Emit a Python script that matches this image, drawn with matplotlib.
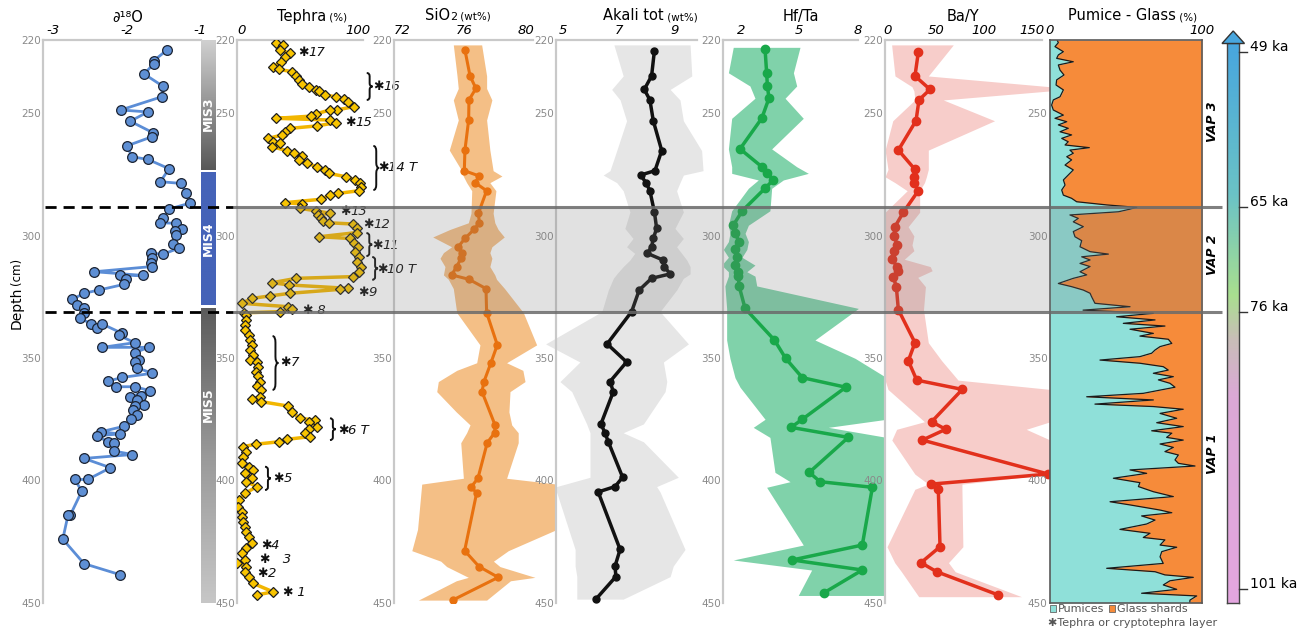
import numpy as np
import matplotlib
matplotlib.use("Agg")
import matplotlib.pyplot as plt
from matplotlib import font_manager
from matplotlib.colors import LinearSegmentedColormap
from matplotlib.patches import PathPatch, Polygon, Rectangle
from matplotlib.path import Path

# ---------------- data (depth in cm) ----------------
d18o_depth = [224.1, 228.5, 229.7, 233.9, 238.8, 243.2, 248.6, 249.4, 253.2, 257.9,
              259.5, 263.2, 267.7, 268.8, 272.6, 277.9, 278.6, 282.4, 286.7, 289.1,
              292.9, 294.7, 294.9, 297.4, 298.1, 299.8, 303.5, 305.1, 307.5, 307.2,
              309.0, 311.3, 312.6, 314.7, 316.2, 316.2, 317.8, 319.9, 322.2, 323.5,
              326.0, 328.3, 329.7, 331.7, 333.5, 336.1, 337.6, 336.1, 339.9, 340.6,
              343.7, 345.6, 345.6, 347.8, 350.8, 351.5, 353.9, 356.2, 357.9, 359.4,
              361.7, 361.7, 363.3, 365.8, 365.5, 367.1, 369.3, 369.6, 371.2, 373.4,
              374.9, 377.9, 380.1, 381.0, 381.7, 384.2, 384.8, 388.0, 389.4, 391.0,
              394.8, 399.6, 399.6, 404.3, 414.3, 414.3, 424.0, 434.0, 438.5]
d18o_val = [-1.45, -1.63, -1.63, -1.76, -1.51, -1.52, -2.08, -1.71, -1.95, -1.64,
            -1.65, -1.99, -1.93, -1.71, -1.42, -1.54, -1.26, -1.19, -1.14, -1.42,
            -1.50, -1.54, -1.32, -1.25, -1.34, -1.32, -1.37, -1.29, -1.50, -1.67,
            -1.66, -1.67, -1.66, -2.44, -1.78, -2.09, -2.01, -2.04, -2.38, -2.58,
            -2.74, -2.67, -2.58, -2.58, -2.64, -2.48, -2.40, -2.33, -2.06, -2.11,
            -1.89, -2.33, -1.70, -1.89, -1.83, -1.89, -1.86, -1.65, -2.06, -2.25,
            -2.14, -1.89, -1.68, -1.96, -1.81, -1.86, -1.76, -1.89, -1.91, -1.86,
            -1.94, -2.04, -2.35, -2.09, -2.40, -2.26, -2.17, -2.17, -1.92, -2.58,
            -2.22, -2.53, -2.71, -2.61, -2.77, -2.80, -2.87, -2.58, -2.09]

mis_names = ["MIS3", "MIS4", "MIS5"]
mis_top = [220.0, 274.2, 329.5]
mis_bot = [273.1, 328.3, 452.0]
mis_label_depth = [250, 301, 369]

tephra_depth = [221.1, 222.0, 224.1, 225.4, 227.1, 228.9, 230.9, 232.0, 232.9, 234.7,
                236.3, 238.0, 239.3, 240.4, 240.7, 242.5, 243.2, 244.3, 245.2, 247.2,
                248.6, 248.6, 250.2, 251.1, 252.0, 252.7, 253.8, 255.1, 256.1, 257.5,
                258.8, 260.2, 261.6, 262.2, 263.6, 265.2, 266.0, 267.4, 269.0, 270.4,
                271.8, 273.1, 274.5, 275.9, 277.2, 278.6, 279.9, 281.6, 282.7, 283.4,
                285.1, 286.5, 287.0, 288.8, 289.8, 290.8, 291.5, 292.9, 293.8, 294.7,
                295.2, 297.0, 298.7, 300.4, 301.1, 302.8, 304.7, 306.5, 308.6, 310.6,
                312.6, 314.7, 316.7, 317.4, 319.2, 320.1, 321.5, 321.9, 323.5, 324.6,
                325.6, 327.6, 329.0, 330.1, 331.0, 331.5, 332.4, 334.4, 336.5, 338.5,
                340.6, 342.6, 344.6, 346.7, 348.7, 350.8, 351.5, 353.5, 355.5, 357.3,
                359.6, 361.4, 363.0, 365.8, 366.7, 367.8, 369.6, 371.9, 374.6, 375.3,
                376.0, 378.0, 379.1, 380.7, 382.1, 383.2, 384.2, 385.2, 386.2, 388.2,
                390.3, 393.0, 394.4, 395.7, 397.1, 399.1, 400.5, 402.5, 405.3, 408.0,
                410.7, 412.8, 414.8, 416.8, 418.9, 420.9, 423.0, 425.7, 427.8, 429.8,
                432.5, 433.9, 435.2, 437.3, 439.3, 442.1, 445.5, 446.8]
tephra_pct = [30, 36, 33, 42, 37, 34, 27, 32, 43, 47,
              49, 52, 58, 64, 67, 72, 81, 88, 92, 97,
              82, 76, 64, 60, 30, 76, 81, 65, 42, 37,
              35, 23, 27, 33, 26, 39, 45, 52, 49, 56,
              65, 72, 75, 90, 98, 102, 103, 101, 83, 76,
              68, 37, 52, 50, 64, 76, 66, 68, 70, 75,
              96, 99, 99, 67, 93, 97, 100, 98, 101, 99,
              103, 101, 96, 47, 26, 41, 92, 85, 42, 24,
              9, 0, 40, 43, 33, 2, 4, 4, 3, 3,
              6, 7, 9, 7, 10, 7, 13, 14, 12, 14,
              16, 13, 17, 16, 9, 17, 40, 43, 50, 63,
              58, 65, 58, 55, 59, 39, 32, 12, 1, 4,
              1, 0, 6, 10, 3, 9, 4, 13, 3, -2,
              -3, 0, 0, 1, 3, 4, 6, 9, 4, 0,
              3, -4, 4, 3, 6, 10, 27, 13]

# tephra layer labels (asterisk position in tephra % / depth)
layer_label = ["17", "16", "15", "14 T", "13", "12", "11", "10 T", "9", " 8",
               "7", "6 T", "5", "4", "   3", "2", " 1"]
layer_x = [48.5, 113.2, 89.0, 117.5, 84.7, 104.6, 112.3, 116.6, 100.3, 52.0,
           33.0, 83.0, 27.0, 16.4, 15.2, 13.4, 35.3]
layer_depth = [225.3, 239.2, 253.8, 272.3, 289.9, 295.2, 304.0, 313.6, 323.0, 330.7,
               352.0, 379.4, 399.4, 426.4, 432.5, 437.9, 445.9]
brace_x = [107.8, 113.5, 107.5, 112.5, 26.6, 76.1, 20.1]
brace_top = [233.5, 263.3, 298.9, 308.7, 341.0, 374.6, 394.4]
brace_bot = [244.5, 281.3, 308.3, 318.0, 363.0, 383.5, 403.9]

sio2_depth = [224.1, 234.7, 239.8, 244.5, 252.7, 265.0, 273.4, 275.6, 278.3, 281.6,
              290.8, 294.7, 297.4, 301.1, 304.5, 306.9, 309.2, 312.6, 316.0, 317.8,
              321.6, 331.4, 344.6, 351.9, 359.6, 363.7, 377.3, 380.5, 384.6, 399.1,
              402.8, 405.0, 428.7, 435.2, 439.6, 448.9]
sio2_val = [76.06, 76.39, 76.77, 76.32, 76.30, 76.06, 76.02, 76.99, 76.71, 77.46,
            76.93, 76.99, 76.65, 76.06, 75.63, 75.85, 75.81, 75.53, 75.20, 76.32,
            77.42, 77.46, 78.15, 77.74, 77.29, 77.16, 78.00, 77.98, 77.50, 76.90,
            76.45, 76.82, 76.04, 76.97, 78.21, 75.27]
sio2_band_depth = [222.0, 234.7, 239.8, 244.5, 252.7, 265.0, 273.4, 275.6, 278.3, 281.6,
                   290.8, 294.7, 297.4, 300.5, 304.5, 306.9, 309.2, 312.6, 316.0, 317.8,
                   321.6, 331.4, 344.6, 351.9, 355.0, 359.6, 363.7, 372.0, 377.3, 380.5,
                   384.6, 399.1, 401.5, 420.0, 428.7, 433.0, 435.2, 439.6, 441.0, 448.9]
sio2_lo = [75.31, 75.55, 75.63, 75.31, 75.63, 75.05, 75.85, 75.95, 76.17, 76.50,
           76.45, 76.28, 75.10, 73.98, 75.20, 74.67, 74.45, 74.77, 74.67, 74.99,
           75.31, 75.53, 77.03, 76.82, 75.53, 74.34, 74.24, 75.50, 76.39, 76.17,
           75.79, 75.96, 73.27, 73.00, 72.63, 74.50, 74.88, 76.28, 75.50, 73.05]
sio2_hi = [77.14, 77.46, 77.46, 77.80, 77.46, 77.67, 77.88, 78.45, 77.67, 78.06,
           77.88, 77.99, 78.20, 78.60, 77.80, 77.67, 77.80, 77.67, 77.99, 78.10,
           78.62, 79.83, 80.69, 78.75, 79.80, 79.94, 78.97, 78.90, 79.08, 79.50,
           79.50, 78.75, 82.00, 82.00, 78.86, 77.90, 78.32, 80.58, 79.00, 77.46]

alk_depth = [224.4, 234.7, 240.2, 244.5, 253.0, 265.2, 273.4, 275.2, 278.3, 281.6,
             290.3, 297.0, 301.1, 304.5, 307.2, 309.9, 312.6, 315.6, 317.4, 322.2,
             331.0, 344.2, 351.6, 359.6, 363.7, 376.9, 380.5, 384.2, 398.7, 402.5,
             404.7, 428.2, 435.0, 439.3, 448.5]
alk_val = [8.27, 8.17, 7.91, 8.11, 8.23, 8.53, 8.29, 7.78, 7.97, 8.11,
           8.27, 8.35, 8.23, 8.17, 8.02, 8.57, 8.62, 8.83, 8.17, 7.73,
           7.46, 6.59, 7.28, 6.69, 6.81, 6.37, 6.51, 6.63, 7.14, 6.87,
           6.27, 7.05, 6.87, 6.90, 6.19]
alk_band_depth = [222.0, 234.7, 240.2, 244.5, 253.0, 265.2, 273.4, 275.2, 278.3, 281.6,
                  290.3, 297.0, 301.1, 304.5, 307.2, 309.9, 312.6, 315.6, 317.4, 322.2,
                  331.0, 344.2, 351.6, 359.6, 363.7, 376.9, 380.5, 384.2, 398.7, 402.5,
                  404.7, 428.2, 435.0, 439.3, 448.5]
alk_lo = [6.83, 7.16, 6.75, 7.05, 7.28, 6.93, 6.69, 6.45, 6.93, 7.16,
          7.40, 7.22, 7.51, 7.28, 7.57, 7.40, 7.16, 6.93, 6.81, 6.63,
          6.40, 4.40, 5.62, 4.91, 5.33, 5.86, 5.98, 5.98, 5.98, 4.79,
          4.79, 5.45, 5.45, 5.51, 5.51]
alk_hi = [9.54, 9.60, 8.83, 9.18, 9.30, 9.95, 10.00, 9.30, 9.18, 9.06,
          9.30, 9.00, 9.30, 9.06, 9.24, 9.42, 9.54, 9.54, 9.30, 9.06,
          8.47, 9.48, 8.59, 8.71, 8.65, 7.88, 7.16, 7.88, 9.12, 8.35,
          8.47, 9.36, 8.94, 8.83, 7.16]

hfta_depth = [223.8, 233.4, 238.8, 243.8, 252.0, 264.5, 271.8, 274.5, 277.2, 280.6,
              289.8, 295.7, 299.0, 302.4, 305.6, 308.8, 312.0, 314.7, 316.5, 320.5,
              329.7, 342.6, 350.1, 358.0, 361.9, 375.0, 378.3, 382.4, 396.7, 400.5,
              402.8, 426.4, 432.5, 436.6, 445.9]
hfta_val = [3.24, 3.32, 3.36, 3.44, 3.07, 1.95, 3.07, 3.36, 3.66, 3.24,
            2.07, 1.60, 1.69, 1.90, 1.69, 1.78, 1.69, 1.83, 1.86, 1.90,
            2.21, 3.72, 4.30, 5.16, 7.40, 5.16, 4.58, 7.53, 5.52, 6.07,
            8.77, 8.25, 4.64, 8.25, 6.28]
hfta_band_depth = [223.0, 233.4, 238.8, 243.8, 252.0, 264.5, 271.8, 274.5, 277.2, 280.6,
                   289.8, 295.7, 299.0, 302.4, 305.6, 308.8, 312.0, 314.7, 316.5, 320.5,
                   329.7, 342.6, 350.1, 358.0, 361.9, 375.0, 378.3, 382.4, 396.7, 400.5,
                   402.8, 426.4, 432.5, 436.6, 447.0]
hfta_lo = [1.60, 1.35, 2.46, 2.72, 1.52, 1.35, 1.52, 1.52, 2.89, 2.38,
           1.52, 1.35, 1.43, 1.35, 1.09, 1.35, 1.00, 1.35, 1.35, 1.17,
           1.26, 1.26, 1.43, 1.69, 1.95, 3.24, 2.63, 3.49, 3.75, 4.53,
           3.32, 5.21, 1.60, 5.64, 4.95]
hfta_hi = [5.04, 4.70, 4.87, 4.27, 5.21, 3.58, 4.87, 5.47, 4.18, 3.58,
           3.49, 2.38, 2.21, 2.38, 2.30, 2.05, 2.72, 2.30, 2.72, 2.81,
           8.05, 5.81, 7.88, 9.50, 9.50, 9.50, 6.50, 9.50, 9.50, 9.50,
           9.50, 9.50, 9.50, 9.50, 9.50]

bay_depth = [225.0, 234.7, 240.2, 244.5, 253.0, 265.0, 272.9, 275.9, 278.3, 281.6,
             290.4, 296.3, 300.1, 303.8, 306.1, 309.6, 312.6, 314.3, 317.0, 320.8,
             330.2, 343.7, 351.1, 359.0, 362.8, 376.0, 379.1, 383.5, 397.4, 401.5,
             403.6, 427.1, 433.6, 437.3, 446.7]
bay_val = [31.6, 28.1, 43.8, 32.3, 29.2, 10.8, 28.1, 27.4, 27.4, 31.6,
           16.0, 7.3, 6.3, 9.7, 6.6, 3.8, 9.7, 10.8, 5.6, 8.7,
           10.8, 28.1, 21.2, 29.9, 77.4, 45.5, 60.1, 35.8, 167.0, 44.8,
           52.4, 54.2, 34.4, 50.7, 114.2]
bay_band_depth = [222.0, 234.7, 239.1, 240.8, 244.5, 253.0, 265.0, 272.9, 275.9, 278.3,
                  281.6, 290.4, 296.3, 300.1, 303.8, 306.1, 309.6, 312.6, 314.3, 317.0,
                  320.8, 330.2, 343.7, 351.1, 359.0, 362.8, 376.0, 379.1, 383.5, 397.4,
                  401.5, 403.6, 427.1, 433.6, 437.3, 447.5]
bay_lo = [3.8, 7.3, 25.0, 27.0, 28.0, 5.0, -3.0, 0.0, -3.0, 7.3,
          20.0, -3.0, -3.0, -3.0, -3.0, -3.0, -3.0, -3.0, -3.0, -3.0,
          -3.0, -3.0, -3.0, -3.0, -3.0, 0.0, 38.0, 9.0, 4.0, 28.0,
          42.0, 28.0, -1.0, 7.0, 14.0, 32.0]
bay_hi = [68.0, 42.0, 169.0, 169.0, 57.6, 111.0, 42.0, 42.0, 40.0, 38.0,
          33.0, 33.0, 21.0, 27.0, 25.0, 27.0, 17.0, 44.0, 46.0, 31.0,
          39.0, 37.0, 42.0, 56.0, 73.0, 169.0, 169.0, 144.0, 169.0, 169.0,
          77.0, 77.0, 78.0, 63.0, 70.0, 139.0]

pumice_depth = [220.0, 221.1, 222.7, 224.8, 226.1, 227.5, 228.9, 230.2, 232.3, 234.3,
                236.3, 238.4, 240.4, 243.2, 244.5, 246.6, 248.6, 250.7, 252.0, 253.4,
                254.7, 256.1, 257.5, 258.8, 260.2, 261.6, 262.9, 264.0, 265.0, 266.3,
                267.7, 269.0, 271.1, 273.1, 275.2, 277.2, 279.3, 281.3, 283.4, 284.7,
                286.1, 287.4, 288.4, 289.2, 290.2, 291.5, 292.9, 294.3, 296.3, 298.3,
                300.4, 302.0, 304.5, 306.5, 307.5, 308.6, 309.9, 311.3, 312.6, 314.7,
                316.0, 317.4, 319.5, 320.8, 322.2, 323.5, 324.9, 326.3, 327.6, 329.0,
                330.4, 331.7, 333.1, 334.4, 335.8, 336.9, 338.2, 339.9, 341.0, 342.3,
                344.0, 345.3, 346.7, 348.0, 349.4, 350.8, 352.1, 353.5, 354.9, 356.2,
                357.6, 358.9, 360.3, 361.9, 364.4, 365.8, 367.1, 368.8, 369.8, 370.9,
                372.6, 374.6, 376.4, 378.0, 379.7, 380.7, 382.4, 383.5, 385.1, 386.5,
                388.2, 389.6, 391.6, 393.0, 394.1, 395.7, 397.1, 399.1, 400.9, 402.5,
                404.6, 406.6, 408.7, 410.0, 412.1, 413.2, 414.5, 416.2, 417.8, 420.0,
                421.6, 423.3, 424.3, 426.4, 427.3, 429.1, 431.2, 433.9, 435.9, 437.3,
                438.6, 439.6, 441.0, 442.7, 444.5, 446.1, 447.2, 448.9, 450.0]
pumice_pct = [5.0, 5.8, 3.6, 9.1, 5.8, 4.7, 15.6, 5.8, 6.9, 9.5,
              4.7, 4.3, 9.1, 6.9, 2.5, 1.4, 2.5, 9.1, 3.6, 11.3,
              5.8, 12.3, 6.9, 14.5, 8.0, 12.3, 10.2, 26.1, 13.4, 15.6,
              11.3, 14.5, 10.2, 15.6, 12.3, 9.1, 10.2, 8.0, 9.1, 14.5,
              17.8, 37.5, 57.2, 52.3, 45.2, 13.4, 18.9, 15.6, 22.2, 15.6,
              16.7, 21.1, 20.0, 26.6, 38.6, 21.1, 26.6, 20.0, 26.6, 20.0,
              24.4, 15.6, 5.8, 14.5, 22.2, 26.6, 27.6, 28.7, 29.8, 52.8,
              22.0, 68.1, 44.0, 69.2, 48.4, 75.7, 52.8, 68.1, 59.3, 77.9,
              80.2, 72.5, 69.2, 67.0, 59.3, 33.1, 59.3, 74.6, 77.9, 68.1,
              81.2, 71.4, 79.0, 82.3, 61.5, 24.4, 68.1, 29.8, 68.1, 87.7,
              72.5, 83.4, 70.3, 87.7, 67.0, 80.2, 76.8, 87.7, 72.5, 81.2,
              75.7, 84.5, 82.3, 84.5, 95.4, 52.8, 63.7, 41.9, 59.3, 58.3,
              68.1, 81.2, 39.7, 52.8, 72.5, 80.2, 60.4, 69.2, 63.7, 46.2,
              65.9, 61.5, 75.7, 72.5, 83.4, 73.6, 72.5, 74.6, 37.5, 69.2,
              75.7, 94.3, 79.0, 74.6, 83.4, 60.4, 96.5, 92.1, 92.0]

vap_label = ["VAP 3", "VAP 2", "VAP 1"]
vap_depth = [253.5, 307.9, 389.2]
age_label = ["49 ka", "65 ka", "76 ka", "101 ka"]
age_depth = [224.8, 288.1, 331.0, 444.5]
band_top, band_bot = 288.1, 331.0   # MIS4 / VAP 2 interval

# ---------------- layout helpers ----------------
W, H = 1309, 633
TOP, BOT = 40.0, 602.8          # pixel rows of depth 220 and 450
DMIN, DMAX = 220, 450
DEPTH_TICKS = [220, 250, 300, 350, 400, 450]


def dpx(d):
    return TOP + (d - DMIN) * (BOT - TOP) / (DMAX - DMIN)


installed = {f.name for f in font_manager.fontManager.ttflist}
NARROW = "Liberation Sans Narrow" if "Liberation Sans Narrow" in installed else "DejaVu Sans"
YT_SIZE = 9 if NARROW != "DejaVu Sans" else 7.5

plt.rcParams["font.family"] = ["DejaVu Sans"]
plt.rcParams["axes.unicode_minus"] = False

fig = plt.figure(figsize=(W / 100, H / 100), dpi=100)


def panel(x0, x1, xlim, xticks, top_end, yticks=DEPTH_TICKS):
    ax = fig.add_axes([x0 / W, 1 - BOT / H, (x1 - x0) / W, (BOT - TOP) / H])
    ax.set_xlim(xlim)
    ax.set_ylim(DMAX, DMIN)
    ax.patch.set_visible(False)
    ax.spines["right"].set_visible(False)
    ax.spines["bottom"].set_visible(False)
    for s in ("left", "top"):
        ax.spines[s].set_color("#c9c9c9")
        ax.spines[s].set_linewidth(1.6)
    ax.spines["top"].set_bounds(xlim[0], top_end)
    ax.xaxis.tick_top()
    ax.set_xticks(xticks, [str(t) for t in xticks], fontstyle="italic", fontsize=9.5)
    ax.set_yticks(yticks, [str(t) for t in yticks], fontfamily=NARROW,
                  fontsize=YT_SIZE, color="#8a8a8a")
    ax.tick_params(axis="both", length=0)
    ax.tick_params(axis="x", pad=2)
    ax.tick_params(axis="y", pad=1.5)
    return ax


def brace(ax, x, d0, d1, w=5.0):
    h = d1 - d0
    m = (d0 + d1) / 2
    xm = x + w / 2
    verts = [(x, d0), (xm, d0), (xm, d0 + h * 0.12), (xm, m - h * 0.12),
             (xm, m), (x + w, m), (xm, m), (xm, m + h * 0.12),
             (xm, d1 - h * 0.12), (xm, d1), (x, d1)]
    codes = [Path.MOVETO, Path.CURVE3, Path.CURVE3, Path.LINETO,
             Path.CURVE3, Path.CURVE3, Path.CURVE3, Path.CURVE3,
             Path.LINETO, Path.CURVE3, Path.CURVE3]
    ax.add_patch(PathPatch(Path(verts, codes), fill=False, lw=1.4,
                           color="#111111", clip_on=False))


# ---------------- d18O ----------------
ax_o = panel(43, 201, (-3.14, -0.985), [-3, -2, -1], -0.985)
ax_o.plot(d18o_val, d18o_depth, "-o", color="#5b8dd6", lw=2, ms=7,
          mfc="#5e8fd4", mec="#1c2433", mew=0.9)

# ---------------- MIS bar ----------------
ax_m = fig.add_axes([201 / W, 1 - BOT / H, 15 / W, (BOT - TOP) / H])
ax_m.axis("off")
mis_cmaps = [LinearSegmentedColormap.from_list("m3", ["#d0d0d0", "#585858"]),
             LinearSegmentedColormap.from_list("m4", ["#4563b8", "#4563b8"]),
             LinearSegmentedColormap.from_list("m5", ["#5c5c5c", "#9a9a9a", "#c8c8c8"])]
grad = np.linspace(0, 1, 200)[:, None]
for name, d0, d1, cm, dl in zip(mis_names, mis_top, mis_bot, mis_cmaps, mis_label_depth):
    ax_m.imshow(grad, extent=(0, 1, d1, d0), aspect="auto", cmap=cm)
    ax_m.text(0.5, dl, name, rotation=90, ha="center", va="center",
              color="white", fontsize=9, fontweight="bold")
ax_m.set_xlim(0, 1)
ax_m.set_ylim(DMAX, DMIN)

# ---------------- Tephra ----------------
ax_t = panel(237, 394, (-4.05, 131.3), [0, 100], 104.6)
ax_t.plot(tephra_pct, tephra_depth, color="#f2b600", lw=2.5, zorder=2)
ax_t.plot(tephra_pct, tephra_depth, "D", ms=5.5, mfc="#f8c400", mec="#1e1e1e",
          mew=0.9, zorder=3)
for lab, x, d in zip(layer_label, layer_x, layer_depth):
    ast = ax_t.text(x, d, "\u2731", fontsize=9, ha="left", va="center",
                    color="#111111", clip_on=False)
    ax_t.annotate(lab, xy=(1, 0.5), xycoords=ast, ha="left", va="center",
                  fontsize=9.5, style="italic", color="#111111")
for x, d0, d1 in zip(brace_x, brace_top, brace_bot):
    brace(ax_t, x, d0, d1)

# ---------------- SiO2 (its 300 label sits under the layer labels) ----------------
ax_s = panel(394, 556, (71.48, 81.94), [72, 76, 80], 80.47,
             yticks=[220, 250, 350, 400, 450])
ax_s.fill_betweenx(sio2_band_depth, sio2_lo, sio2_hi, color="#f4bf86", lw=0)
ax_s.plot(sio2_val, sio2_depth, "-o", color="#e8710f", lw=2.2, ms=5)

# ---------------- Alkali ----------------
ax_a = panel(556, 723, (4.77, 10.71), [5, 7, 9], 9.78)
ax_a.fill_betweenx(alk_band_depth, alk_lo, alk_hi, color="#e6e6e6", lw=0, clip_on=False)
ax_a.plot(alk_val, alk_depth, "-o", color="#111111", lw=2.5, ms=5)

# ---------------- Hf/Ta ----------------
ax_h = panel(723, 885, (1.072, 9.42), [2, 5, 8], 8.05)
ax_h.fill_betweenx(hfta_band_depth, hfta_lo, hfta_hi, color="#80d2aa", lw=0)
ax_h.plot(hfta_val, hfta_depth, "-o", color="#19a84a", lw=2.5, ms=6)

# ---------------- Ba/Y ----------------
ax_b = panel(885, 1049.5, (-3.1, 168.2), [0, 50, 100, 150], 160)
ax_b.fill_betweenx(bay_band_depth, bay_lo, bay_hi, color="#f7cdca", lw=0)
ax_b.plot(bay_val, bay_depth, "-o", color="#e2301c", lw=2.5, ms=6)

# ---------------- Pumice - Glass ----------------
ax_p = panel(1049.5, 1202, (0, 100), [0, 100], 100, yticks=[250, 300, 350, 400, 450])
ax_p.fill_betweenx(pumice_depth, 0, pumice_pct, color="#8fe0d9", lw=0)
ax_p.fill_betweenx(pumice_depth, pumice_pct, 100, color="#f68b3a", lw=0)
ax_p.plot(pumice_pct, pumice_depth, color="#1a1a1a", lw=0.9)
for s in ax_p.spines.values():
    s.set_visible(True)
    s.set_color("#5a5a5a")
    s.set_linewidth(1.2)
ax_p.spines["top"].set_bounds(0, 100)

# ---------------- age colour bar ----------------
age_cmap = LinearSegmentedColormap.from_list(
    "age", [(0.0, "#48a6de"), (0.27, "#6bc3c6"), (0.45, "#a9df8f"),
            (0.53, "#c9bdb8"), (0.63, "#dba9d6"), (1.0, "#e4a6e0")])
ax_c = fig.add_axes([1227 / W, 1 - 603 / H, 12 / W, (603 - 43) / H])
ax_c.imshow(np.linspace(0, 1, 300)[:, None], aspect="auto", cmap=age_cmap)
ax_c.set_xticks([])
ax_c.set_yticks([])
for s in ax_c.spines.values():
    s.set_color("#444444")
    s.set_linewidth(1)

# ---------------- overlay (pixel coordinates) ----------------
ov = fig.add_axes([0, 0, 1, 1])
ov.set_xlim(0, W)
ov.set_ylim(H, 0)
ov.axis("off")
ov.set_zorder(10)

yb0, yb1 = dpx(band_top), dpx(band_bot)
ov.add_patch(Rectangle((237, yb0), 1202 - 237, yb1 - yb0, facecolor="#7a7a7a",
                       alpha=0.22, lw=0))
for y in (yb0, yb1):
    ov.plot([233, 1222], [y, y], color="#6a6a6a", lw=2.2, alpha=0.85,
            solid_capstyle="butt")
    ov.plot([45, 233], [y, y], color="black", lw=2, dashes=(4, 2.5))

# titles
ov.text(128, 17, "\u2202\u00b9\u2078O", fontsize=10.5, ha="center", va="center")


def title(x, y, big, small, sub=None):
    t = ov.text(x, y, big, fontsize=10.5, ha="left", va="center")
    if sub is not None:
        t = ov.annotate(sub, xy=(1, 0.08), xycoords=t, fontsize=8, va="bottom")
    ov.annotate(small, xy=(1, 0.08), xycoords=t, fontsize=7.5, va="bottom")


title(277, 16, "Tephra", " (%)")
title(425, 16, "SiO", " (wt%)", sub="2")
title(603, 16, "Akali tot", " (wt%)")
ov.text(783, 16, "Hf/Ta", fontsize=10.5, ha="left", va="center")
ov.text(947, 16, "Ba/Y", fontsize=10.5, ha="left", va="center")
title(1068, 16, "Pumice - Glass", " (%)")

# depth label
ov.text(17, 308, "Depth", rotation=90, fontsize=10, ha="center", va="center")
ov.text(17, 271, "(cm)", rotation=90, fontsize=8.5, ha="center", va="center")

# VAP labels
for lab, d in zip(vap_label, vap_depth):
    ov.text(1212.7, dpx(d), lab, rotation=90, ha="center", va="center",
            fontsize=9, fontweight="bold", style="italic")

# colour bar arrow head and age ticks
ov.add_patch(Polygon([(1222, 43.5), (1244.5, 43.5), (1233.2, 31)], closed=True,
                     facecolor=age_cmap(0.0), edgecolor="#333333", lw=1))
for lab, d in zip(age_label, age_depth):
    y = dpx(d)
    ov.plot([1239, 1247], [y, y], color="#333333", lw=1)
    ov.text(1250, y - 5, lab, fontsize=10, ha="left", va="center")

# legend
ov.add_patch(Rectangle((1050, 605), 6, 7, facecolor="#8fe0d9", edgecolor="#666666", lw=0.6))
ov.text(1057.5, 608.5, "Pumices", fontsize=8, color="#555555", va="center")
ov.add_patch(Rectangle((1109, 605), 6, 7, facecolor="#f68b3a", edgecolor="#666666", lw=0.6))
ov.text(1117, 608.5, "Glass shards", fontsize=8, color="#555555", va="center")
ov.text(1048, 622.7, "\u2731Tephra or cryptotephra layer", fontsize=8,
        color="#555555", va="center")

fig.savefig("out.png", dpi=100)
